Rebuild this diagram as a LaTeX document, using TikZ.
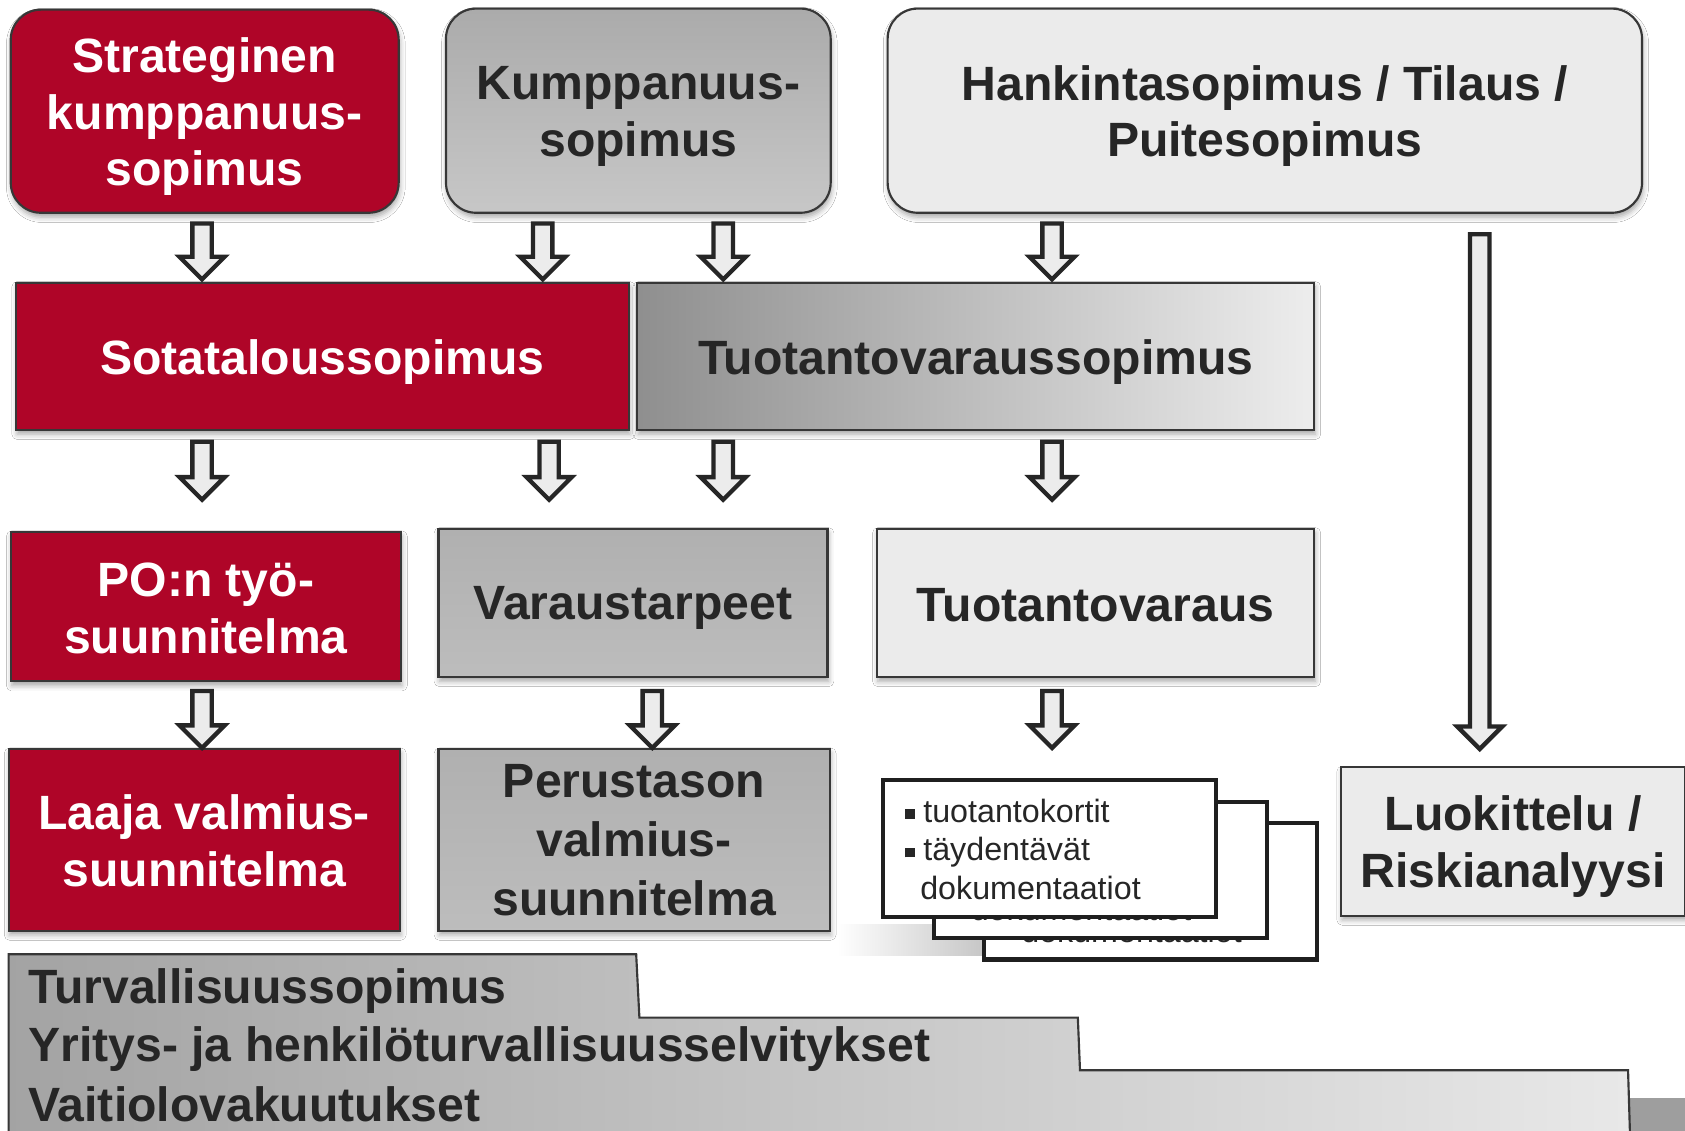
\documentclass[tikz,border=0pt]{standalone}
\usepackage{fontspec}
\setmainfont{Liberation Sans}
\usetikzlibrary{shadows.blur,calc,fadings}
\definecolor{dred}{RGB}{175,5,40}
\definecolor{txt}{RGB}{38,38,38}
\definecolor{bord}{RGB}{55,55,55}
\definecolor{lgray}{RGB}{235,235,235}
\definecolor{arrfill}{RGB}{236,236,236}
\newcommand\bsq{\raisebox{1.6pt}{\rule{4.4pt}{4.4pt}}\hspace{4pt}}
\newcommand\dnarrow[3]{%
  \draw[blockarrow] ({#1-9},#2) -- ({#1+9},#2) -- ({#1+9},{#3-21}) -- ({#1+21},{#3-21})
    -- (#1,#3) -- ({#1-21},{#3-21}) -- ({#1-9},{#3-21}) -- cycle;}
\tikzset{
  box/.style={draw=bord, line width=1pt, inner sep=0pt,
    blur shadow={shadow xshift=0.5pt, shadow yshift=-2pt, shadow blur radius=2.5pt, shadow opacity=35}},
  boxlbl/.style={inner sep=0pt, align=center, yshift=-2.5pt,
    font=\bfseries\fontsize{22.4}{26.5}\selectfont},
  whitelbl/.style={boxlbl, text=white},
  darklbl/.style={boxlbl, text=txt},
  wh/.style 2 args={minimum width=#1*0.5pt, minimum height=#2*0.5pt},
  redbox/.style={box, fill=dred},
  graybox/.style={box, top color=black!33, bottom color=black!22},
  midbox/.style={box, top color=black!31, bottom color=black!26},
  lightbox/.style={box, fill=lgray},
  gradbox/.style={box, left color=black!44, right color=black!7},
  rbox/.style={rounded corners=14pt},
  blockarrow/.style={draw=txt, line width=2pt, fill=arrfill, line join=miter},
  docbox/.style={draw=black!88, line width=1.9pt, fill=white, wh={310}{127}, inner sep=0pt},
  doct/.style={text=txt, inner sep=0pt, font=\fontsize{15}{18}\selectfont},
  bottomtext/.style={text=txt, inner sep=0pt, anchor=west, font=\bfseries\fontsize{22.4}{26.5}\selectfont},
}
\newcommand\docstack[3]{%
  \node[docbox, anchor=north west] (#1) at (#2,#3) {};
  \node[doct, anchor=base west] (#1a) at ($(#1.north west)+(22,41)$) {\bsq tuotantokortit};
  \node[doct, anchor=base west] (#1b) at ($(#1.north west)+(22,77)$) {\bsq täydentävät};
  \node[doct, anchor=base west] (#1c) at ($(#1.north west)+(36,113)$) {dokumentaatiot};}
\begin{document}
\begin{tikzpicture}[x=0.5pt,y=-0.5pt]
\clip (0,0) rectangle (1568,1052);
\fill[white] (0,0) rectangle (1568,1052);

% bottom staircase
\fill[black!38] (1510,1022) rectangle (1575,1060);
\path[draw=bord, line width=1pt, left color=black!36, right color=black!9]
  (8,888) -- (592,888) -- (595,947) -- (1003,947) -- (1005,996) -- (1515,996) -- (1517,1062) -- (8,1062) -- cycle;
\node[bottomtext] (turv) at (26,922) {Turvallisuussopimus};
\node[bottomtext] (yrit) at (26,976) {Yritys- ja henkilöturvallisuusselvitykset};
\node[bottomtext] (vait) at (26,1028) {Vaitiolovakuutukset};

% soft shadow under the document stack
\fill[black!22, path fading=west] (780,860) rectangle (915,890);

% top row
\node[redbox, rbox, wh={361}{189}, label={[whitelbl]center:{Strateginen\\kumppanuus-\\sopimus}}] (strat) at (190.5,103.5) {};
\node[graybox, rbox, wh={358}{190}, label={[darklbl]center:{Kumppanuus-\\sopimus}}] (kump) at (594,103) {};
\node[lightbox, rbox, wh={702}{190}, label={[darklbl]center:{Hankintasopimus / Tilaus /\\Puitesopimus}}] (hank) at (1177,103) {};

% second row
\node[redbox, wh={570}{137}, label={[whitelbl]center:Sotataloussopimus}] (sota) at (300,331.5) {};
\node[gradbox, wh={630}{137}, label={[darklbl]center:Tuotantovaraussopimus}] (tuot) at (908,331.5) {};

% third row
\node[redbox, wh={363}{139}, label={[whitelbl, yshift=1.5pt]center:{PO:n työ-\\suunnitelma}}] (po) at (191.5,564.5) {};
\node[midbox, wh={362}{138}, label={[darklbl]center:Varaustarpeet}] (vara) at (589,561) {};
\node[lightbox, wh={407}{138}, label={[darklbl, yshift=1.5pt]center:Tuotantovaraus}] (tuotv) at (1019.5,561) {};

% fourth row
\node[redbox, wh={364}{169}, label={[whitelbl, yshift=2pt]center:{Laaja valmius-\\suunnitelma}}] (laaja) at (190,781.5) {};
\node[midbox, wh={364}{169}, label={[darklbl, yshift=2.5pt, font=\bfseries\fontsize{22.4}{27.5}\selectfont]center:{Perustason\\valmius-\\suunnitelma}}] (perus) at (590,781.5) {};
\node[lightbox, wh={320}{138}, label={[darklbl]center:{Luokittelu /\\Riskianalyysi}}] (luok) at (1408,783) {};

% document stack
\docstack{docc}{914}{764}
\docstack{docb}{867}{744}
\docstack{doca}{820}{724}

% arrows
\dnarrow{188}{208}{260}
\dnarrow{505}{208}{260}
\dnarrow{673}{208}{260}
\dnarrow{979}{208}{260}
\dnarrow{188}{411}{465}
\dnarrow{511}{411}{465}
\dnarrow{673}{411}{465}
\dnarrow{979}{411}{465}
\dnarrow{188}{643}{696}
\dnarrow{607}{643}{696}
\dnarrow{979}{643}{696}
\dnarrow{1377}{218}{697}
\end{tikzpicture}
\end{document}
